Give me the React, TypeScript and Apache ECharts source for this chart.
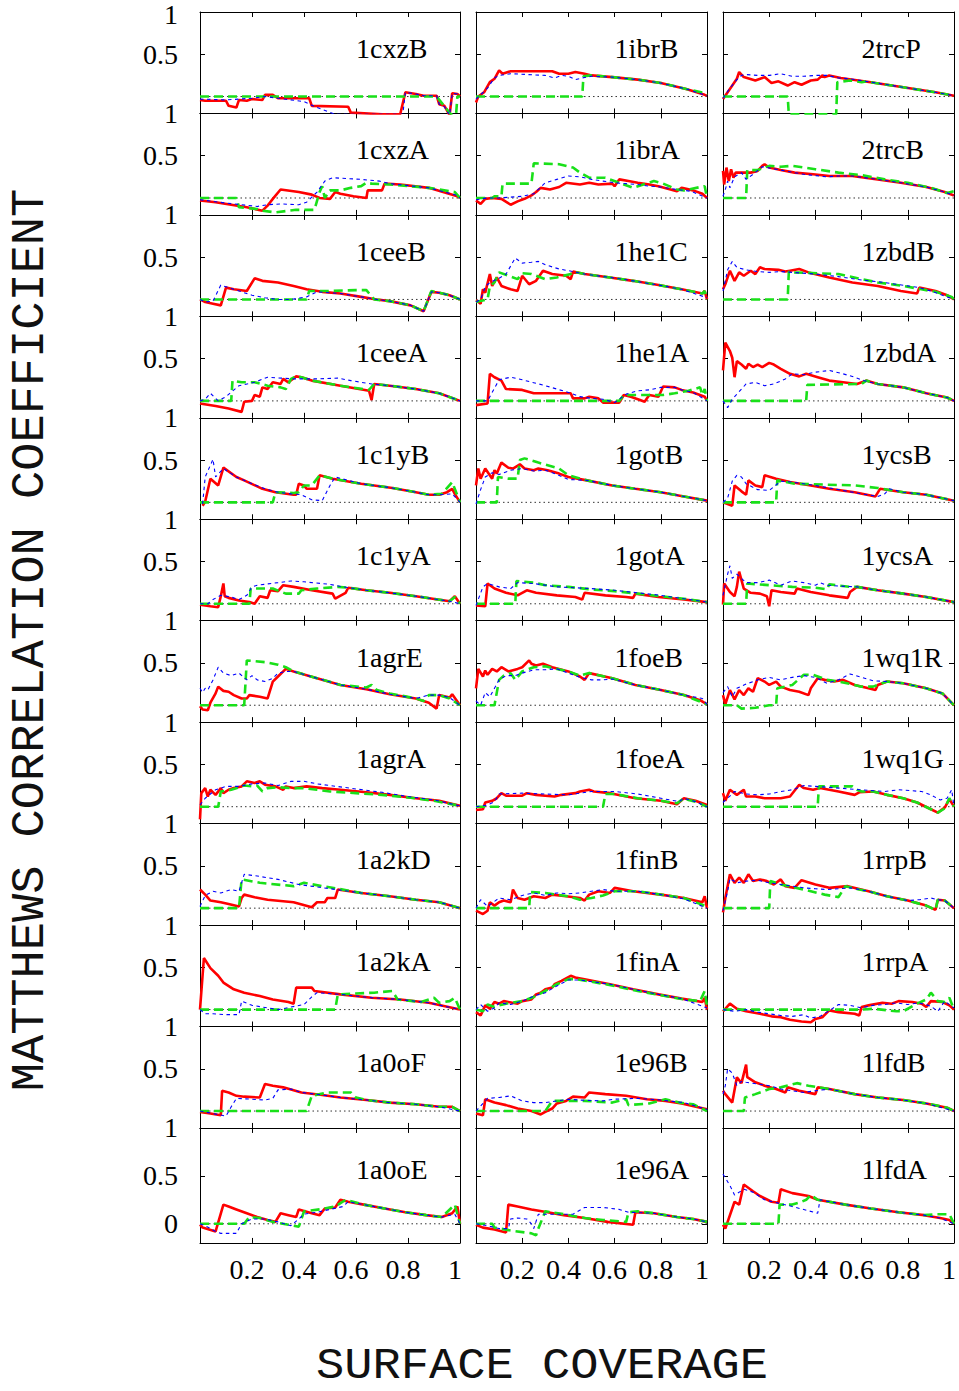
import React, { useEffect, useRef } from "react";
import * as echarts from "echarts";

type Pt = [number, number];

// ---- panel names, row by row (3 columns) ----
const NAMES = [
  "1cxzB", "1ibrB", "2trcP",
  "1cxzA", "1ibrA", "2trcB",
  "1ceeB", "1he1C", "1zbdB",
  "1ceeA", "1he1A", "1zbdA",
  "1c1yB", "1gotB", "1ycsB",
  "1c1yA", "1gotA", "1ycsA",
  "1agrE", "1foeB", "1wq1R",
  "1agrA", "1foeA", "1wq1G",
  "1a2kD", "1finB", "1rrpB",
  "1a2kA", "1finA", "1rrpA",
  "1a0oF", "1e96B", "1lfdB",
  "1a0oE", "1e96A", "1lfdA",
];

const X_TICKS = [0.2, 0.4, 0.6, 0.8];
const X_LABELS = [0.2, 0.4, 0.6, 0.8, 1];
const Y_TICKS = [0.5, 1];
const Y_TICKS_LAST = [0, 0.5, 1];
const Y_LABELS = [0.5, 1];
const Y_LABELS_FIRST = [0.5, 0.972]; // top "1" nudged inside the page edge
const Y_LABELS_LAST = [0, 0.5, 1];
const ZERO_LINE: Pt[] = [[0, 0], [1, 0]];

// ---- row 1 ----
const r_1cxzB: Pt[] = [[0,-0.04],[0.02,-0.05],[0.1,-0.05],[0.11,-0.11],[0.14,-0.13],[0.15,-0.04],[0.18,-0.05],[0.2,-0.03],[0.24,-0.04],[0.25,0.02],[0.28,0.02],[0.3,-0.02],[0.42,-0.02],[0.43,-0.11],[0.57,-0.12],[0.58,-0.19],[0.7,-0.21],[0.77,-0.21],[0.79,0.05],[0.83,0.03],[0.86,0.01],[0.91,0.01],[0.92,-0.09],[0.94,-0.11],[0.96,-0.22],[0.97,0.04],[0.99,0.03],[1,0]];
const g_1cxzB: Pt[] = [[0,0],[0.91,0],[0.965,-0.21],[0.985,-0.21],[0.99,0],[1,0]];
const b_1cxzB: Pt[] = [[0,-0.03],[0.1,-0.04],[0.15,-0.03],[0.2,-0.02],[0.25,0],[0.3,-0.02],[0.4,-0.06],[0.45,-0.13],[0.52,-0.21],[0.78,-0.21],[0.79,0.05],[0.83,0.03],[0.86,0.01],[0.91,0.01],[0.92,-0.09],[0.94,-0.12],[0.96,-0.22],[0.97,0.04],[0.99,0.03],[1,0]];

const r_1ibrB: Pt[] = [[0,-0.07],[0.01,0],[0.035,0.05],[0.06,0.17],[0.08,0.21],[0.1,0.31],[0.115,0.27],[0.15,0.3],[0.33,0.3],[0.36,0.27],[0.4,0.27],[0.43,0.29],[0.47,0.27],[0.5,0.25],[0.59,0.23],[0.7,0.2],[0.8,0.16],[0.91,0.09],[0.99,0.02],[1,0.01]];
const g_1ibrB: Pt[] = [[0,0],[0.46,0],[0.465,0.24],[0.5,0.25],[0.59,0.23],[0.7,0.2],[0.8,0.16],[0.91,0.09],[0.99,0.04],[1,0.02]];
const b_1ibrB: Pt[] = [[0,-0.03],[0.05,0.1],[0.08,0.22],[0.1,0.25],[0.15,0.27],[0.3,0.25],[0.34,0.22],[0.37,0.25],[0.4,0.24],[0.43,0.2],[0.46,0.22],[0.5,0.24],[0.59,0.23],[0.7,0.2],[0.8,0.16],[0.91,0.09],[1,0.01]];

const r_2trcP: Pt[] = [[0,-0.03],[0.035,0.11],[0.06,0.21],[0.07,0.29],[0.09,0.23],[0.14,0.19],[0.18,0.23],[0.21,0.16],[0.24,0.18],[0.28,0.13],[0.31,0.17],[0.34,0.14],[0.38,0.19],[0.41,0.2],[0.43,0.25],[0.44,0.23],[0.46,0.25],[0.51,0.22],[0.64,0.17],[0.78,0.11],[0.92,0.05],[1,0.01]];
const g_2trcP: Pt[] = [[0,0],[0.28,0],[0.285,-0.21],[0.49,-0.21],[0.495,0.17],[0.55,0.19],[0.6,0.17],[0.62,0.18],[0.66,0.16],[0.78,0.11],[0.92,0.05],[1,0.01]];
const b_2trcP: Pt[] = [[0,-0.02],[0.03,0.1],[0.06,0.2],[0.08,0.25],[0.1,0.26],[0.15,0.25],[0.2,0.25],[0.25,0.27],[0.3,0.24],[0.35,0.24],[0.4,0.25],[0.45,0.25],[0.5,0.22],[0.55,0.21],[0.64,0.17],[0.78,0.11],[0.92,0.05],[1,0.01]];

// ---- row 2 ----
const r_1cxzA: Pt[] = [[0,-0.03],[0.06,-0.05],[0.12,-0.08],[0.18,-0.11],[0.24,-0.15],[0.26,-0.09],[0.27,-0.05],[0.28,-0.01],[0.31,0.1],[0.38,0.07],[0.43,0.04],[0.46,0],[0.5,-0.01],[0.52,0.07],[0.54,0.05],[0.59,0.02],[0.64,0],[0.645,0.09],[0.7,0.09],[0.71,0.17],[0.77,0.16],[0.88,0.12],[0.99,0.02],[1,0]];
const g_1cxzA: Pt[] = [[0,0],[0.14,0],[0.15,-0.11],[0.22,-0.13],[0.24,-0.15],[0.29,-0.17],[0.37,-0.14],[0.44,-0.14],[0.46,0.07],[0.47,0.14],[0.48,0],[0.5,0.09],[0.54,0.09],[0.58,0.12],[0.62,0.14],[0.64,0.18],[0.66,0.17],[0.73,0.16],[0.88,0.12],[0.98,0.07],[1,0]];
const b_1cxzA: Pt[] = [[0,-0.02],[0.1,-0.06],[0.22,-0.1],[0.26,-0.08],[0.31,-0.07],[0.38,-0.08],[0.41,-0.05],[0.45,0.07],[0.48,0.2],[0.51,0.24],[0.62,0.22],[0.69,0.2],[0.73,0.17],[0.88,0.12],[0.99,0.03],[1,0]];

const r_1ibrA: Pt[] = [[0,-0.03],[0.02,-0.07],[0.04,-0.01],[0.07,0],[0.11,-0.01],[0.15,-0.08],[0.18,-0.04],[0.21,-0.01],[0.24,0.03],[0.26,0.07],[0.28,0.12],[0.32,0.1],[0.36,0.13],[0.39,0.18],[0.45,0.16],[0.49,0.18],[0.53,0.16],[0.59,0.17],[0.6,0.14],[0.62,0.22],[0.66,0.2],[0.7,0.18],[0.75,0.16],[0.79,0.14],[0.87,0.08],[0.89,0.12],[0.94,0.09],[0.98,0.05],[1,0]];
const g_1ibrA: Pt[] = [[0,0],[0.07,0],[0.08,0.02],[0.11,0.02],[0.115,0.17],[0.24,0.17],[0.25,0.41],[0.36,0.4],[0.42,0.36],[0.45,0.3],[0.49,0.24],[0.56,0.24],[0.62,0.18],[0.68,0.12],[0.77,0.2],[0.81,0.17],[0.87,0.1],[0.9,0.09],[0.99,0.14],[1,0]];
const b_1ibrA: Pt[] = [[0,-0.02],[0.05,0],[0.1,0],[0.2,0.02],[0.25,0.05],[0.3,0.18],[0.35,0.22],[0.4,0.26],[0.45,0.25],[0.5,0.22],[0.55,0.2],[0.6,0.18],[0.65,0.17],[0.7,0.16],[0.75,0.14],[0.8,0.13],[0.87,0.1],[0.93,0.08],[1,0]];

const r_2trcB: Pt[] = [[0,0.32],[0.005,0.16],[0.015,0.36],[0.025,0.2],[0.035,0.34],[0.045,0.24],[0.055,0.3],[0.08,0.3],[0.12,0.3],[0.15,0.32],[0.17,0.38],[0.18,0.4],[0.2,0.36],[0.25,0.33],[0.31,0.3],[0.39,0.28],[0.46,0.26],[0.56,0.26],[0.67,0.22],[0.77,0.18],[0.88,0.13],[0.96,0.07],[1,0.03]];
const g_2trcB: Pt[] = [[0,0],[0.1,0],[0.105,0.33],[0.15,0.33],[0.2,0.38],[0.25,0.37],[0.3,0.38],[0.35,0.36],[0.4,0.34],[0.5,0.3],[0.6,0.27],[0.7,0.22],[0.8,0.18],[0.9,0.12],[0.97,0.06],[1,0.08]];
const b_2trcB: Pt[] = [[0,0.02],[0.01,0.1],[0.02,0.2],[0.03,0.12],[0.05,0.25],[0.08,0.3],[0.1,0.22],[0.13,0.28],[0.17,0.37],[0.25,0.33],[0.35,0.28],[0.45,0.25],[0.5,0.26],[0.56,0.26],[0.67,0.22],[0.77,0.18],[0.88,0.13],[0.96,0.07],[1,0.03]];

// ---- row 3 ----
const r_1ceeB: Pt[] = [[0,0],[0.02,-0.03],[0.05,-0.05],[0.08,-0.07],[0.1,0.14],[0.13,0.12],[0.18,0.1],[0.21,0.25],[0.24,0.22],[0.3,0.2],[0.36,0.16],[0.41,0.12],[0.47,0.09],[0.54,0.07],[0.62,0.03],[0.68,0],[0.73,-0.02],[0.81,-0.07],[0.86,-0.14],[0.89,0.09],[0.92,0.08],[0.96,0.05],[1,0]];
const g_1ceeB: Pt[] = [[0,0],[0.41,0],[0.42,0.1],[0.5,0.1],[0.6,0.11],[0.64,0.11],[0.67,0],[0.73,-0.02],[0.81,-0.07],[0.86,-0.14],[0.89,0.1],[0.92,0.08],[0.96,0.05],[1,0]];
const b_1ceeB: Pt[] = [[0,0],[0.02,-0.03],[0.05,-0.02],[0.08,0.17],[0.1,0.15],[0.15,0.1],[0.2,0.05],[0.25,0.02],[0.3,0],[0.35,0],[0.41,0.03],[0.45,0.09],[0.54,0.07],[0.62,0.03],[0.68,0],[0.73,-0.02],[0.81,-0.07],[0.86,-0.14],[0.89,0.09],[0.92,0.08],[0.96,0.05],[1,0]];

const r_1he1C: Pt[] = [[0,-0.01],[0.02,-0.05],[0.03,0.12],[0.04,0.08],[0.06,0.3],[0.07,0.16],[0.09,0.26],[0.11,0.16],[0.15,0.12],[0.18,0.1],[0.2,0.28],[0.23,0.18],[0.26,0.22],[0.29,0.34],[0.33,0.3],[0.39,0.28],[0.41,0.24],[0.42,0.33],[0.47,0.3],[0.58,0.26],[0.68,0.22],[0.79,0.17],[0.89,0.12],[0.98,0.07],[0.99,0.1],[1,0]];
const g_1he1C: Pt[] = [[0,-0.03],[0.05,0],[0.06,0.16],[0.08,0.2],[0.1,0.32],[0.14,0.28],[0.18,0.24],[0.2,0.31],[0.24,0.3],[0.3,0.24],[0.35,0.26],[0.41,0.3],[0.42,0.33],[0.47,0.3],[0.58,0.26],[0.68,0.22],[0.79,0.17],[0.89,0.12],[0.98,0.07],[0.99,0.1],[1,0]];
const b_1he1C: Pt[] = [[0,-0.03],[0.02,0],[0.04,0.15],[0.06,0.2],[0.1,0.25],[0.13,0.3],[0.17,0.49],[0.2,0.43],[0.24,0.44],[0.27,0.45],[0.3,0.41],[0.36,0.36],[0.42,0.33],[0.47,0.3],[0.58,0.26],[0.68,0.22],[0.79,0.17],[0.89,0.12],[1,0.02]];

const r_1zbdB: Pt[] = [[0,0.12],[0.01,0.18],[0.03,0.34],[0.05,0.22],[0.07,0.32],[0.09,0.28],[0.12,0.34],[0.14,0.3],[0.16,0.38],[0.18,0.36],[0.24,0.35],[0.27,0.33],[0.29,0.34],[0.33,0.36],[0.37,0.32],[0.46,0.26],[0.56,0.2],[0.67,0.16],[0.77,0.1],[0.84,0.07],[0.85,0.14],[0.92,0.1],[0.97,0.05],[1,0]];
const g_1zbdB: Pt[] = [[0,0],[0.28,0],[0.285,0.33],[0.31,0.32],[0.5,0.3],[0.67,0.2],[0.78,0.16],[0.92,0.09],[0.99,0.03],[1,0]];
const b_1zbdB: Pt[] = [[0,0.1],[0.02,0.35],[0.04,0.45],[0.06,0.38],[0.1,0.35],[0.15,0.33],[0.2,0.32],[0.25,0.33],[0.3,0.32],[0.4,0.3],[0.5,0.27],[0.6,0.23],[0.7,0.2],[0.8,0.16],[0.85,0.14],[0.9,0.1],[1,0]];

// ---- row 4 ----
const r_1ceeA: Pt[] = [[0,-0.03],[0.06,-0.06],[0.11,-0.09],[0.16,-0.13],[0.17,-0.01],[0.2,0],[0.21,0.07],[0.23,0.05],[0.24,0.16],[0.26,0.14],[0.28,0.22],[0.31,0.2],[0.32,0.26],[0.34,0.22],[0.37,0.29],[0.39,0.28],[0.43,0.24],[0.54,0.18],[0.65,0.12],[0.66,0.01],[0.67,0.2],[0.73,0.18],[0.83,0.14],[0.92,0.09],[1,0]];
const g_1ceeA: Pt[] = [[0,0],[0.12,0],[0.125,0.24],[0.16,0.22],[0.21,0.22],[0.26,0.18],[0.31,0.16],[0.33,0.14],[0.35,0.26],[0.37,0.29],[0.39,0.28],[0.43,0.24],[0.54,0.18],[0.65,0.13],[0.67,0.2],[0.73,0.18],[0.83,0.14],[0.92,0.09],[1,0]];
const b_1ceeA: Pt[] = [[0,0],[0.02,0.02],[0.04,0.09],[0.07,0],[0.1,0.05],[0.15,0.18],[0.21,0.22],[0.26,0.28],[0.36,0.26],[0.45,0.26],[0.53,0.27],[0.58,0.24],[0.66,0.2],[0.73,0.18],[0.83,0.14],[0.92,0.09],[1,0]];

const r_1he1A: Pt[] = [[0,-0.05],[0.05,-0.03],[0.06,0.32],[0.08,0.28],[0.11,0.24],[0.13,0.14],[0.2,0.13],[0.25,0.09],[0.41,0.09],[0.42,0.03],[0.47,0.03],[0.49,0.05],[0.53,0.03],[0.55,-0.02],[0.62,-0.02],[0.64,0.07],[0.67,0.05],[0.71,0.01],[0.73,-0.01],[0.75,0.07],[0.79,0.05],[0.81,0.17],[0.86,0.16],[0.89,0.13],[0.94,0.1],[0.99,0.05],[1,0]];
const g_1he1A: Pt[] = [[0,0],[0.62,0],[0.64,0.07],[0.81,0.07],[0.86,0.09],[0.92,0.12],[0.97,0.16],[0.98,0.07],[0.99,0.14],[1,0]];
const b_1he1A: Pt[] = [[0,0],[0.05,0],[0.1,0.25],[0.15,0.28],[0.2,0.25],[0.3,0.18],[0.4,0.1],[0.45,0.05],[0.5,0.03],[0.55,0.02],[0.6,-0.02],[0.65,0.08],[0.7,0.12],[0.75,0.13],[0.8,0.16],[0.86,0.16],[0.89,0.13],[0.94,0.1],[1,0]];

const r_1zbdA: Pt[] = [[0,0.36],[0.01,0.69],[0.03,0.59],[0.04,0.51],[0.05,0.28],[0.06,0.47],[0.08,0.43],[0.1,0.38],[0.11,0.44],[0.13,0.4],[0.15,0.43],[0.17,0.4],[0.2,0.45],[0.22,0.43],[0.25,0.38],[0.29,0.32],[0.33,0.29],[0.36,0.32],[0.41,0.28],[0.46,0.24],[0.52,0.22],[0.58,0.2],[0.62,0.24],[0.67,0.2],[0.78,0.16],[0.88,0.09],[0.97,0.04],[1,0]];
const g_1zbdA: Pt[] = [[0,0],[0.36,0],[0.365,0.19],[0.6,0.2],[0.62,0.24],[0.67,0.2],[0.78,0.16],[0.88,0.09],[0.97,0.04],[1,0]];
const b_1zbdA: Pt[] = [[0,0],[0.02,-0.08],[0.04,0.02],[0.1,0.2],[0.14,0.22],[0.18,0.18],[0.22,0.2],[0.27,0.26],[0.3,0.32],[0.35,0.31],[0.4,0.34],[0.46,0.36],[0.52,0.32],[0.57,0.28],[0.61,0.24],[0.67,0.2],[0.78,0.16],[0.88,0.09],[0.97,0.04],[1,0]];

// ---- row 5 ----
const r_1c1yB: Pt[] = [[0.01,-0.04],[0.02,0.01],[0.04,0.28],[0.07,0.2],[0.09,0.41],[0.14,0.3],[0.17,0.26],[0.24,0.16],[0.29,0.12],[0.36,0.09],[0.37,0.09],[0.38,0.22],[0.4,0.2],[0.41,0.16],[0.45,0.16],[0.46,0.32],[0.51,0.28],[0.62,0.22],[0.74,0.17],[0.83,0.12],[0.88,0.09],[0.92,0.09],[0.95,0.12],[0.97,0.16],[0.98,0.1],[1,0]];
const g_1c1yB: Pt[] = [[0,0],[0.28,0],[0.29,0.12],[0.36,0.11],[0.38,0.12],[0.4,0.2],[0.43,0.2],[0.46,0.32],[0.51,0.28],[0.62,0.22],[0.74,0.17],[0.83,0.12],[0.88,0.09],[0.93,0.1],[0.97,0.24],[1,0]];
const b_1c1yB: Pt[] = [[0.01,-0.02],[0.02,0.3],[0.05,0.51],[0.06,0.3],[0.09,0.4],[0.14,0.3],[0.2,0.22],[0.25,0.16],[0.3,0.12],[0.35,0.1],[0.39,0.09],[0.43,0.03],[0.47,0.02],[0.5,0.2],[0.52,0.3],[0.62,0.22],[0.74,0.17],[0.83,0.12],[0.88,0.09],[0.92,0.09],[0.97,0.1],[1,0]];

const r_1gotB: Pt[] = [[0,0.2],[0.01,0.4],[0.02,0.28],[0.04,0.4],[0.07,0.28],[0.08,0.38],[0.09,0.34],[0.11,0.47],[0.14,0.41],[0.16,0.4],[0.19,0.45],[0.21,0.4],[0.25,0.38],[0.27,0.4],[0.31,0.38],[0.36,0.34],[0.4,0.3],[0.48,0.26],[0.59,0.2],[0.69,0.16],[0.8,0.12],[0.9,0.07],[1,0.02]];
const g_1gotB: Pt[] = [[0,0],[0.09,0],[0.095,0.3],[0.14,0.28],[0.18,0.28],[0.19,0.5],[0.21,0.52],[0.27,0.47],[0.36,0.4],[0.4,0.32],[0.48,0.26],[0.59,0.2],[0.69,0.16],[0.8,0.12],[0.9,0.07],[1,0.02]];
const b_1gotB: Pt[] = [[0,-0.02],[0.02,0.15],[0.04,0.3],[0.07,0.35],[0.1,0.33],[0.15,0.38],[0.2,0.4],[0.25,0.37],[0.3,0.38],[0.35,0.33],[0.4,0.27],[0.48,0.26],[0.59,0.2],[0.69,0.16],[0.8,0.12],[0.9,0.07],[1,0.02]];

const r_1ycsB: Pt[] = [[0,0],[0.04,-0.04],[0.05,0.2],[0.08,0.13],[0.1,0.09],[0.11,0.26],[0.14,0.2],[0.17,0.18],[0.18,0.32],[0.23,0.28],[0.29,0.24],[0.38,0.2],[0.46,0.16],[0.57,0.12],[0.66,0.07],[0.68,0.16],[0.78,0.12],[0.88,0.09],[1,0.02]];
const g_1ycsB: Pt[] = [[0,0],[0.23,0],[0.235,0.26],[0.31,0.22],[0.44,0.21],[0.57,0.2],[0.67,0.17],[0.78,0.12],[0.88,0.09],[1,0.02]];
const b_1ycsB: Pt[] = [[0,0],[0.02,0.05],[0.04,0.25],[0.06,0.32],[0.08,0.3],[0.1,0.22],[0.15,0.15],[0.2,0.14],[0.25,0.25],[0.3,0.24],[0.4,0.2],[0.5,0.15],[0.6,0.1],[0.67,0.07],[0.7,0.1],[0.72,0.16],[0.78,0.12],[0.88,0.09],[1,0.02]];

// ---- row 6 ----
const r_1c1yA: Pt[] = [[0,-0.01],[0.04,-0.03],[0.07,-0.04],[0.08,0.09],[0.09,0.24],[0.095,0.09],[0.11,0.07],[0.15,0.04],[0.19,0.02],[0.21,0],[0.23,0.09],[0.26,0.07],[0.27,0.16],[0.3,0.15],[0.32,0.22],[0.36,0.2],[0.43,0.16],[0.51,0.12],[0.52,0.06],[0.56,0.13],[0.57,0.19],[0.64,0.16],[0.73,0.13],[0.83,0.09],[0.96,0.03],[0.98,0.09],[1,0]];
const g_1c1yA: Pt[] = [[0,0],[0.19,0],[0.195,0.18],[0.28,0.18],[0.33,0.12],[0.38,0.12],[0.39,0.16],[0.45,0.18],[0.53,0.2],[0.57,0.19],[0.64,0.16],[0.73,0.13],[0.83,0.09],[0.96,0.03],[0.98,0.08],[1,0]];
const b_1c1yA: Pt[] = [[0,0],[0.03,0],[0.05,0.05],[0.08,0.1],[0.12,0.08],[0.15,0.05],[0.18,0.1],[0.2,0.2],[0.22,0.22],[0.3,0.25],[0.35,0.27],[0.4,0.26],[0.5,0.23],[0.55,0.2],[0.64,0.16],[0.73,0.13],[0.83,0.09],[0.96,0.03],[1,0]];

const r_1gotA: Pt[] = [[0,-0.02],[0.04,-0.03],[0.05,0.24],[0.08,0.18],[0.13,0.13],[0.18,0.1],[0.22,0.16],[0.26,0.13],[0.35,0.1],[0.43,0.08],[0.46,0.05],[0.47,0.13],[0.56,0.1],[0.65,0.08],[0.68,0.07],[0.69,0.12],[0.79,0.08],[0.9,0.05],[1,0.02]];
const g_1gotA: Pt[] = [[0,0],[0.17,0],[0.175,0.27],[0.25,0.25],[0.3,0.22],[0.4,0.2],[0.5,0.17],[0.6,0.15],[0.7,0.12],[0.8,0.09],[0.9,0.06],[1,0.02]];
const b_1gotA: Pt[] = [[0,-0.02],[0.03,0.2],[0.05,0.24],[0.1,0.2],[0.15,0.18],[0.18,0.25],[0.25,0.24],[0.35,0.2],[0.5,0.18],[0.6,0.16],[0.7,0.13],[0.8,0.1],[0.9,0.06],[1,0.02]];

const r_1ycsA: Pt[] = [[0,-0.01],[0.005,0.24],[0.03,0.14],[0.05,0.09],[0.06,0.2],[0.07,0.38],[0.09,0.18],[0.12,0.13],[0.16,0.12],[0.19,0.09],[0.2,-0.03],[0.21,0.16],[0.25,0.14],[0.31,0.12],[0.32,0.18],[0.38,0.14],[0.46,0.1],[0.54,0.07],[0.55,0.14],[0.58,0.2],[0.67,0.16],[0.78,0.12],[0.88,0.08],[1,0.02]];
const g_1ycsA: Pt[] = [[0,0],[0.1,0],[0.105,0.24],[0.2,0.22],[0.3,0.2],[0.4,0.19],[0.45,0.17],[0.46,0.23],[0.55,0.2],[0.58,0.2],[0.67,0.16],[0.78,0.12],[0.88,0.08],[1,0.02]];
const b_1ycsA: Pt[] = [[0,0.1],[0.02,0.35],[0.03,0.45],[0.04,0.3],[0.06,0.35],[0.08,0.3],[0.1,0.25],[0.15,0.25],[0.2,0.28],[0.25,0.22],[0.3,0.27],[0.35,0.25],[0.4,0.22],[0.42,0.25],[0.45,0.22],[0.5,0.21],[0.58,0.2],[0.67,0.16],[0.78,0.12],[0.88,0.08],[1,0.02]];

// ---- row 7 ----
const r_1agrE: Pt[] = [[0,-0.01],[0.01,-0.05],[0.03,-0.06],[0.04,0.03],[0.06,0.14],[0.07,0.22],[0.09,0.17],[0.11,0.16],[0.13,0.12],[0.16,0.08],[0.18,0.08],[0.19,0.12],[0.23,0.1],[0.26,0.08],[0.28,0.28],[0.3,0.34],[0.33,0.43],[0.36,0.4],[0.45,0.32],[0.54,0.24],[0.64,0.19],[0.73,0.13],[0.83,0.08],[0.88,0.03],[0.91,-0.04],[0.92,0.12],[0.96,0.09],[0.97,0.13],[1,0]];
const g_1agrE: Pt[] = [[0,0],[0.17,0],[0.18,0.53],[0.25,0.51],[0.3,0.48],[0.33,0.45],[0.36,0.4],[0.45,0.32],[0.54,0.24],[0.64,0.21],[0.66,0.24],[0.68,0.18],[0.73,0.14],[0.83,0.08],[0.86,0.05],[0.88,0.12],[0.92,0.12],[0.96,0.08],[1,0]];
const b_1agrE: Pt[] = [[0,0.2],[0.01,0.15],[0.02,0.2],[0.03,0.18],[0.05,0.3],[0.07,0.45],[0.09,0.38],[0.12,0.35],[0.15,0.38],[0.18,0.3],[0.2,0.35],[0.22,0.3],[0.25,0.28],[0.28,0.32],[0.3,0.38],[0.33,0.4],[0.36,0.4],[0.45,0.32],[0.54,0.24],[0.64,0.19],[0.73,0.13],[0.83,0.08],[0.88,0.12],[0.92,0.12],[0.96,0.09],[1,0]];

const r_1foeB: Pt[] = [[0,0.2],[0.01,0.43],[0.03,0.34],[0.04,0.41],[0.05,0.36],[0.07,0.43],[0.09,0.4],[0.11,0.45],[0.14,0.4],[0.18,0.43],[0.2,0.45],[0.23,0.53],[0.24,0.49],[0.26,0.47],[0.29,0.49],[0.33,0.45],[0.4,0.4],[0.45,0.34],[0.47,0.3],[0.49,0.38],[0.59,0.32],[0.69,0.24],[0.8,0.18],[0.9,0.12],[0.97,0.06],[1,0.01]];
const g_1foeB: Pt[] = [[0,0],[0.08,0],[0.1,0.3],[0.12,0.35],[0.15,0.38],[0.17,0.3],[0.2,0.4],[0.22,0.42],[0.25,0.45],[0.3,0.46],[0.35,0.43],[0.4,0.4],[0.45,0.35],[0.49,0.38],[0.59,0.32],[0.69,0.24],[0.8,0.18],[0.9,0.12],[1,0.01]];
const b_1foeB: Pt[] = [[0,0.05],[0.02,0],[0.04,0.15],[0.06,0.1],[0.08,0.2],[0.1,0.3],[0.13,0.35],[0.17,0.35],[0.2,0.38],[0.25,0.42],[0.3,0.42],[0.35,0.43],[0.4,0.38],[0.45,0.33],[0.5,0.3],[0.55,0.3],[0.59,0.31],[0.69,0.24],[0.8,0.18],[0.9,0.12],[0.98,0.08],[1,0.01]];

const r_1wq1R: Pt[] = [[0,0.12],[0.01,0.01],[0.03,0.18],[0.05,0.07],[0.07,0.18],[0.09,0.12],[0.11,0.2],[0.13,0.16],[0.15,0.32],[0.18,0.28],[0.2,0.24],[0.23,0.28],[0.25,0.22],[0.29,0.18],[0.33,0.16],[0.37,0.12],[0.38,0.2],[0.41,0.32],[0.44,0.3],[0.48,0.28],[0.52,0.3],[0.57,0.24],[0.63,0.2],[0.66,0.18],[0.67,0.24],[0.71,0.28],[0.78,0.26],[0.88,0.2],[0.95,0.14],[1,0]];
const g_1wq1R: Pt[] = [[0,0],[0.06,0],[0.08,-0.04],[0.14,-0.03],[0.2,0],[0.23,0],[0.235,0.2],[0.3,0.24],[0.35,0.36],[0.39,0.36],[0.45,0.3],[0.5,0.28],[0.57,0.24],[0.6,0.22],[0.65,0.22],[0.71,0.28],[0.78,0.26],[0.88,0.2],[0.95,0.14],[1,0]];
const b_1wq1R: Pt[] = [[0,0.15],[0.02,0.22],[0.04,0.1],[0.06,0.2],[0.1,0.25],[0.15,0.3],[0.2,0.33],[0.25,0.3],[0.3,0.33],[0.35,0.35],[0.4,0.33],[0.45,0.26],[0.5,0.3],[0.55,0.37],[0.6,0.33],[0.65,0.29],[0.71,0.28],[0.78,0.26],[0.88,0.2],[0.95,0.14],[1,0]];

// ---- row 8 ----
const r_1agrA: Pt[] = [[0,-0.15],[0.005,0.16],[0.02,0.22],[0.03,0.12],[0.04,0.2],[0.06,0.14],[0.08,0.22],[0.09,0.16],[0.11,0.2],[0.13,0.22],[0.16,0.24],[0.18,0.3],[0.21,0.28],[0.23,0.3],[0.25,0.26],[0.29,0.24],[0.32,0.2],[0.33,0.24],[0.36,0.22],[0.41,0.24],[0.47,0.22],[0.54,0.2],[0.64,0.17],[0.73,0.14],[0.83,0.1],[0.92,0.07],[1,0.01]];
const g_1agrA: Pt[] = [[0,0],[0.07,0],[0.08,0.18],[0.12,0.2],[0.17,0.25],[0.2,0.24],[0.22,0.25],[0.24,0.18],[0.26,0.22],[0.3,0.23],[0.35,0.22],[0.4,0.22],[0.45,0.2],[0.5,0.18],[0.6,0.16],[0.7,0.14],[0.8,0.11],[0.9,0.07],[1,0.01]];
const b_1agrA: Pt[] = [[0,0.02],[0.02,0.1],[0.04,0.15],[0.06,0.2],[0.1,0.24],[0.15,0.24],[0.2,0.27],[0.25,0.28],[0.3,0.25],[0.35,0.3],[0.4,0.3],[0.45,0.27],[0.5,0.25],[0.6,0.21],[0.7,0.17],[0.8,0.12],[0.9,0.08],[1,0.01]];

const r_1foeA: Pt[] = [[0,-0.04],[0.03,-0.03],[0.04,0.05],[0.07,0.07],[0.09,0.1],[0.11,0.16],[0.13,0.13],[0.2,0.13],[0.22,0.16],[0.26,0.14],[0.3,0.13],[0.34,0.12],[0.37,0.14],[0.43,0.16],[0.45,0.18],[0.49,0.2],[0.51,0.18],[0.58,0.16],[0.69,0.1],[0.8,0.07],[0.87,0.03],[0.9,0.1],[0.95,0.07],[1,0.02]];
const g_1foeA: Pt[] = [[0,0],[0.55,0],[0.56,0.15],[0.6,0.15],[0.7,0.1],[0.8,0.07],[0.87,0.04],[0.9,0.1],[0.92,0.08],[0.95,0.06],[1,0]];
const b_1foeA: Pt[] = [[0,0],[0.05,0.02],[0.08,0.06],[0.1,0.15],[0.2,0.16],[0.3,0.15],[0.4,0.14],[0.5,0.18],[0.6,0.18],[0.7,0.15],[0.8,0.1],[0.88,0.06],[0.9,0.1],[0.95,0.06],[1,0]];

const r_1wq1G: Pt[] = [[0,0.16],[0.01,0.07],[0.03,0.2],[0.06,0.14],[0.09,0.2],[0.1,0.12],[0.14,0.12],[0.18,0.1],[0.25,0.1],[0.29,0.12],[0.33,0.26],[0.35,0.22],[0.39,0.2],[0.42,0.22],[0.5,0.18],[0.57,0.14],[0.59,0.17],[0.65,0.18],[0.71,0.14],[0.78,0.1],[0.84,0.05],[0.9,-0.03],[0.93,-0.07],[0.96,-0.01],[0.98,0.09],[1,0]];
const g_1wq1G: Pt[] = [[0,0],[0.41,0],[0.415,0.24],[0.56,0.24],[0.58,0.2],[0.6,0.18],[0.65,0.18],[0.71,0.14],[0.78,0.1],[0.84,0.05],[0.9,-0.03],[0.93,-0.07],[0.96,-0.02],[0.98,0.1],[1,0]];
const b_1wq1G: Pt[] = [[0,0.05],[0.02,0.1],[0.05,0.18],[0.1,0.15],[0.15,0.14],[0.2,0.15],[0.25,0.18],[0.3,0.2],[0.35,0.25],[0.4,0.24],[0.5,0.22],[0.6,0.2],[0.7,0.18],[0.76,0.2],[0.86,0.18],[0.9,0.14],[0.94,0.08],[0.97,0.1],[0.99,0.2],[1,0]];

// ---- row 9 ----
const r_1a2kD: Pt[] = [[0,0.22],[0.02,0.16],[0.04,0.09],[0.08,0.07],[0.11,0.05],[0.15,0.02],[0.16,0.12],[0.17,0.16],[0.21,0.13],[0.26,0.1],[0.36,0.07],[0.43,0.01],[0.45,0.07],[0.48,0.07],[0.49,0.12],[0.52,0.12],[0.53,0.22],[0.62,0.18],[0.73,0.14],[0.83,0.1],[0.92,0.07],[1,0]];
const g_1a2kD: Pt[] = [[0,0],[0.15,0],[0.16,0.34],[0.23,0.3],[0.36,0.26],[0.4,0.3],[0.47,0.26],[0.53,0.23],[0.62,0.18],[0.73,0.14],[0.83,0.1],[0.92,0.07],[1,0]];
const b_1a2kD: Pt[] = [[0,0.02],[0.02,0.15],[0.05,0.2],[0.08,0.18],[0.12,0.22],[0.15,0.2],[0.17,0.4],[0.22,0.38],[0.3,0.34],[0.38,0.28],[0.45,0.25],[0.5,0.23],[0.62,0.18],[0.73,0.14],[0.83,0.1],[0.92,0.07],[1,0]];

const r_1finB: Pt[] = [[0,-0.03],[0.03,-0.07],[0.05,-0.03],[0.06,0.07],[0.08,0.03],[0.1,0.07],[0.12,0.09],[0.15,0.07],[0.16,0.22],[0.18,0.12],[0.21,0.1],[0.25,0.14],[0.3,0.12],[0.33,0.16],[0.39,0.14],[0.45,0.12],[0.47,0.09],[0.49,0.16],[0.53,0.2],[0.58,0.18],[0.6,0.24],[0.64,0.22],[0.68,0.2],[0.8,0.16],[0.9,0.12],[0.98,0.07],[0.99,0.14],[1,0]];
const g_1finB: Pt[] = [[0,0],[0.23,0],[0.235,0.19],[0.3,0.18],[0.35,0.16],[0.4,0.14],[0.45,0.1],[0.5,0.12],[0.55,0.15],[0.6,0.2],[0.7,0.2],[0.8,0.16],[0.9,0.12],[1,0.02]];
const b_1finB: Pt[] = [[0,0],[0.02,0.1],[0.05,0.02],[0.08,0.08],[0.1,0.12],[0.15,0.1],[0.2,0.15],[0.25,0.18],[0.3,0.15],[0.35,0.18],[0.4,0.17],[0.45,0.18],[0.5,0.2],[0.55,0.22],[0.6,0.2],[0.7,0.2],[0.8,0.16],[0.9,0.11],[1,0]];

const r_1rrpB: Pt[] = [[0,-0.05],[0.01,0.12],[0.03,0.4],[0.05,0.3],[0.07,0.36],[0.09,0.3],[0.11,0.4],[0.13,0.32],[0.16,0.34],[0.19,0.32],[0.22,0.28],[0.25,0.34],[0.27,0.26],[0.31,0.24],[0.34,0.33],[0.4,0.28],[0.46,0.24],[0.54,0.26],[0.63,0.2],[0.71,0.14],[0.8,0.09],[0.88,0.03],[0.92,-0.02],[0.93,0.1],[0.96,0.09],[1,0]];
const g_1rrpB: Pt[] = [[0,0],[0.2,0],[0.205,0.32],[0.25,0.28],[0.35,0.22],[0.44,0.16],[0.5,0.13],[0.53,0.26],[0.59,0.22],[0.63,0.2],[0.71,0.14],[0.8,0.09],[0.88,0.03],[0.92,-0.02],[0.93,0.1],[0.96,0.09],[1,0]];
const b_1rrpB: Pt[] = [[0,-0.03],[0.02,0.2],[0.03,0.35],[0.06,0.3],[0.1,0.32],[0.15,0.33],[0.2,0.3],[0.25,0.28],[0.3,0.26],[0.35,0.24],[0.4,0.23],[0.45,0.22],[0.5,0.23],[0.55,0.24],[0.63,0.2],[0.71,0.14],[0.8,0.09],[0.85,0.1],[0.9,0.12],[0.93,0.1],[0.96,0.09],[1,0]];

// ---- row 10 ----
const r_1a2kA: Pt[] = [[0,0],[0.015,0.61],[0.04,0.49],[0.07,0.4],[0.09,0.32],[0.13,0.24],[0.17,0.2],[0.23,0.16],[0.28,0.12],[0.34,0.09],[0.36,0.07],[0.37,0.26],[0.43,0.26],[0.44,0.22],[0.54,0.18],[0.66,0.14],[0.77,0.12],[0.88,0.08],[1,0]];
const g_1a2kA: Pt[] = [[0,0],[0.52,0],[0.53,0.18],[0.6,0.19],[0.67,0.2],[0.74,0.22],[0.76,0.12],[0.85,0.09],[0.9,0.14],[0.92,0.08],[0.96,0.1],[0.98,0.14],[1,0]];
const b_1a2kA: Pt[] = [[0,0],[0.02,-0.05],[0.05,-0.05],[0.1,-0.06],[0.15,-0.06],[0.16,0.1],[0.2,0.05],[0.3,0],[0.35,0.03],[0.4,0.06],[0.43,0.15],[0.45,0.2],[0.54,0.18],[0.66,0.14],[0.77,0.12],[0.88,0.08],[1,0]];

const r_1finA: Pt[] = [[0,-0.03],[0.02,-0.07],[0.04,0.05],[0.06,0.01],[0.08,0.09],[0.1,0.07],[0.12,0.1],[0.14,0.09],[0.18,0.07],[0.2,0.1],[0.24,0.12],[0.26,0.18],[0.28,0.2],[0.3,0.24],[0.33,0.26],[0.34,0.3],[0.37,0.34],[0.41,0.4],[0.43,0.38],[0.47,0.36],[0.58,0.3],[0.68,0.24],[0.79,0.18],[0.89,0.13],[0.98,0.09],[0.99,0.14],[1,0]];
const g_1finA: Pt[] = [[0,0],[0.03,-0.02],[0.05,0.06],[0.08,0.03],[0.1,0.05],[0.15,0.08],[0.2,0.1],[0.25,0.15],[0.3,0.22],[0.35,0.3],[0.4,0.36],[0.43,0.36],[0.5,0.33],[0.6,0.28],[0.7,0.22],[0.8,0.17],[0.9,0.12],[0.97,0.1],[0.99,0.22],[1,0.04]];
const b_1finA: Pt[] = [[0,0],[0.02,0.06],[0.05,-0.02],[0.08,0.02],[0.1,0.08],[0.15,0.06],[0.2,0.1],[0.25,0.16],[0.3,0.2],[0.35,0.28],[0.4,0.35],[0.45,0.35],[0.58,0.3],[0.68,0.24],[0.79,0.18],[0.89,0.13],[1,0.02]];

const r_1rrpA: Pt[] = [[0,-0.02],[0.03,0.07],[0.06,0.01],[0.1,-0.02],[0.16,-0.05],[0.21,-0.08],[0.25,-0.09],[0.29,-0.12],[0.34,-0.14],[0.38,-0.15],[0.4,-0.11],[0.43,-0.09],[0.46,-0.01],[0.5,-0.03],[0.57,-0.05],[0.59,-0.07],[0.6,0.03],[0.63,0.05],[0.69,0.08],[0.73,0.07],[0.76,0.1],[0.82,0.09],[0.86,0.07],[0.88,0.03],[0.9,0.1],[0.95,0.09],[0.98,0.05],[1,0]];
const g_1rrpA: Pt[] = [[0,0],[0.6,0],[0.65,0.01],[0.75,-0.02],[0.78,-0.02],[0.84,0.07],[0.88,0.12],[0.9,0.2],[0.93,0.1],[0.96,0.09],[0.98,0.14],[1,0]];
const b_1rrpA: Pt[] = [[0,0],[0.05,-0.02],[0.1,0],[0.15,-0.03],[0.2,-0.05],[0.25,-0.07],[0.3,-0.08],[0.35,-0.06],[0.38,-0.1],[0.42,-0.08],[0.45,-0.03],[0.5,0.06],[0.55,0.05],[0.6,0.02],[0.65,0.05],[0.7,0.06],[0.75,0.08],[0.8,0.06],[0.85,0.08],[0.9,0.04],[0.93,-0.02],[0.96,0.1],[1,0.02]];

// ---- row 11 ----
const r_1a0oF: Pt[] = [[0,-0.01],[0.04,-0.03],[0.08,-0.05],[0.085,0.24],[0.11,0.22],[0.14,0.18],[0.17,0.17],[0.23,0.16],[0.25,0.32],[0.28,0.3],[0.32,0.28],[0.39,0.22],[0.47,0.19],[0.54,0.16],[0.64,0.13],[0.73,0.1],[0.83,0.08],[0.92,0.05],[0.97,0.05],[1,0]];
const g_1a0oF: Pt[] = [[0,0],[0.41,0],[0.43,0.18],[0.49,0.22],[0.58,0.22],[0.6,0.16],[0.64,0.13],[0.73,0.1],[0.83,0.08],[0.92,0.05],[0.97,0.05],[1,0]];
const b_1a0oF: Pt[] = [[0,0],[0.05,-0.03],[0.1,-0.06],[0.12,0.05],[0.14,0.15],[0.2,0.14],[0.25,0.13],[0.28,0.15],[0.3,0.25],[0.35,0.26],[0.39,0.22],[0.47,0.19],[0.54,0.16],[0.64,0.13],[0.73,0.1],[0.83,0.08],[0.92,0.05],[1,0]];

const r_1e96B: Pt[] = [[0,-0.03],[0.03,-0.05],[0.04,0.14],[0.08,0.1],[0.13,0.07],[0.18,0.03],[0.24,0],[0.26,-0.02],[0.28,-0.04],[0.3,-0.01],[0.33,0.03],[0.35,0.09],[0.39,0.12],[0.42,0.17],[0.47,0.16],[0.49,0.22],[0.56,0.2],[0.65,0.18],[0.74,0.14],[0.82,0.12],[0.89,0.09],[1,0.02]];
const g_1e96B: Pt[] = [[0,0],[0.3,0],[0.33,0.12],[0.47,0.12],[0.59,0.1],[0.65,0.14],[0.66,0.07],[0.75,0.09],[0.82,0.14],[0.88,0.1],[0.94,0.08],[1,0]];
const b_1e96B: Pt[] = [[0,0],[0.05,0.15],[0.1,0.16],[0.15,0.18],[0.2,0.12],[0.25,0.1],[0.3,0.1],[0.35,0.12],[0.4,0.14],[0.45,0.13],[0.55,0.12],[0.6,0.14],[0.7,0.15],[0.8,0.13],[0.9,0.1],[1,0.02]];

const r_1lfdB: Pt[] = [[0,0.24],[0.01,0.2],[0.04,0.1],[0.06,0.4],[0.08,0.33],[0.09,0.44],[0.1,0.55],[0.105,0.4],[0.14,0.34],[0.18,0.3],[0.23,0.26],[0.27,0.22],[0.28,0.28],[0.33,0.24],[0.4,0.2],[0.41,0.28],[0.46,0.26],[0.57,0.2],[0.67,0.16],[0.78,0.13],[0.88,0.09],[0.97,0.04],[1,0]];
const g_1lfdB: Pt[] = [[0,0],[0.09,0],[0.095,0.16],[0.14,0.2],[0.2,0.26],[0.25,0.28],[0.32,0.33],[0.37,0.3],[0.46,0.26],[0.57,0.2],[0.67,0.16],[0.78,0.13],[0.88,0.09],[0.97,0.04],[1,0]];
const b_1lfdB: Pt[] = [[0,0.2],[0.01,0.3],[0.02,0.5],[0.04,0.45],[0.06,0.3],[0.08,0.35],[0.1,0.34],[0.15,0.32],[0.2,0.3],[0.25,0.26],[0.3,0.24],[0.35,0.22],[0.4,0.24],[0.46,0.26],[0.57,0.2],[0.67,0.16],[0.78,0.13],[0.88,0.09],[1,0]];

// ---- row 12 ----
const r_1a0oE: Pt[] = [[0,-0.01],[0.01,-0.04],[0.06,-0.08],[0.09,0.2],[0.11,0.18],[0.14,0.15],[0.18,0.11],[0.22,0.07],[0.26,0.04],[0.29,0.02],[0.31,0.11],[0.34,0.09],[0.37,0.07],[0.38,0.15],[0.43,0.11],[0.46,0.09],[0.48,0.16],[0.52,0.17],[0.54,0.25],[0.57,0.23],[0.63,0.2],[0.71,0.16],[0.79,0.12],[0.87,0.09],[0.93,0.07],[0.97,0.11],[0.99,0.18],[1,0]];
const g_1a0oE: Pt[] = [[0,0],[0.17,0],[0.19,0.07],[0.23,0.06],[0.28,0.02],[0.34,-0.01],[0.38,-0.03],[0.4,0.13],[0.46,0.15],[0.52,0.18],[0.56,0.25],[0.63,0.2],[0.71,0.16],[0.79,0.12],[0.87,0.09],[0.93,0.07],[0.98,0.2],[1,0]];
const b_1a0oE: Pt[] = [[0,0],[0.02,-0.02],[0.06,-0.08],[0.08,-0.1],[0.14,-0.1],[0.16,0],[0.2,0.05],[0.25,0.05],[0.3,0.02],[0.35,-0.02],[0.38,0.05],[0.4,0.1],[0.45,0.12],[0.5,0.15],[0.55,0.18],[0.57,0.23],[0.63,0.2],[0.71,0.16],[0.79,0.12],[0.87,0.09],[0.93,0.07],[0.98,0.1],[1,0]];

const r_1e96A: Pt[] = [[0,-0.01],[0.03,-0.04],[0.08,-0.06],[0.13,-0.09],[0.14,0.2],[0.18,0.18],[0.24,0.15],[0.31,0.12],[0.38,0.09],[0.47,0.06],[0.57,0.02],[0.68,-0.01],[0.69,0.12],[0.77,0.11],[0.87,0.07],[0.94,0.05],[1,0.02]];
const g_1e96A: Pt[] = [[0,0],[0.07,0],[0.08,-0.04],[0.15,-0.07],[0.24,-0.1],[0.26,-0.12],[0.27,-0.05],[0.3,0.13],[0.38,0.1],[0.47,0.06],[0.55,0.04],[0.65,0.02],[0.66,0.12],[0.7,0.13],[0.77,0.11],[0.87,0.07],[0.94,0.05],[1,0.02]];
const b_1e96A: Pt[] = [[0,0],[0.05,-0.02],[0.1,-0.05],[0.14,-0.05],[0.15,0.05],[0.18,0.06],[0.22,0.05],[0.24,0],[0.25,-0.05],[0.27,0.1],[0.3,0.1],[0.35,0.1],[0.42,0.1],[0.47,0.17],[0.55,0.17],[0.62,0.15],[0.66,0.12],[0.77,0.11],[0.87,0.07],[0.94,0.05],[1,0.02]];

const r_1lfdA: Pt[] = [[0,-0.01],[0.01,-0.05],[0.05,0.23],[0.07,0.2],[0.09,0.41],[0.13,0.34],[0.16,0.29],[0.21,0.23],[0.24,0.22],[0.25,0.36],[0.3,0.32],[0.37,0.29],[0.41,0.25],[0.53,0.2],[0.64,0.16],[0.76,0.12],[0.87,0.09],[0.94,0.06],[0.98,0.04],[1,0]];
const g_1lfdA: Pt[] = [[0,0],[0.24,0],[0.245,0.2],[0.3,0.2],[0.33,0.22],[0.36,0.25],[0.38,0.3],[0.41,0.25],[0.53,0.2],[0.64,0.16],[0.76,0.12],[0.87,0.09],[0.92,0.1],[0.98,0.1],[1,0]];
const b_1lfdA: Pt[] = [[0,0.52],[0.03,0.4],[0.05,0.3],[0.09,0.36],[0.13,0.33],[0.18,0.25],[0.3,0.18],[0.41,0.11],[0.42,0.25],[0.53,0.2],[0.64,0.16],[0.76,0.12],[0.87,0.09],[0.94,0.06],[1,0]];

const RED: Pt[][] = [
  r_1cxzB, r_1ibrB, r_2trcP, r_1cxzA, r_1ibrA, r_2trcB, r_1ceeB, r_1he1C, r_1zbdB,
  r_1ceeA, r_1he1A, r_1zbdA, r_1c1yB, r_1gotB, r_1ycsB, r_1c1yA, r_1gotA, r_1ycsA,
  r_1agrE, r_1foeB, r_1wq1R, r_1agrA, r_1foeA, r_1wq1G, r_1a2kD, r_1finB, r_1rrpB,
  r_1a2kA, r_1finA, r_1rrpA, r_1a0oF, r_1e96B, r_1lfdB, r_1a0oE, r_1e96A, r_1lfdA,
];
const GREEN: Pt[][] = [
  g_1cxzB, g_1ibrB, g_2trcP, g_1cxzA, g_1ibrA, g_2trcB, g_1ceeB, g_1he1C, g_1zbdB,
  g_1ceeA, g_1he1A, g_1zbdA, g_1c1yB, g_1gotB, g_1ycsB, g_1c1yA, g_1gotA, g_1ycsA,
  g_1agrE, g_1foeB, g_1wq1R, g_1agrA, g_1foeA, g_1wq1G, g_1a2kD, g_1finB, g_1rrpB,
  g_1a2kA, g_1finA, g_1rrpA, g_1a0oF, g_1e96B, g_1lfdB, g_1a0oE, g_1e96A, g_1lfdA,
];
const BLUE: Pt[][] = [
  b_1cxzB, b_1ibrB, b_2trcP, b_1cxzA, b_1ibrA, b_2trcB, b_1ceeB, b_1he1C, b_1zbdB,
  b_1ceeA, b_1he1A, b_1zbdA, b_1c1yB, b_1gotB, b_1ycsB, b_1c1yA, b_1gotA, b_1ycsA,
  b_1agrE, b_1foeB, b_1wq1R, b_1agrA, b_1foeA, b_1wq1G, b_1a2kD, b_1finB, b_1rrpB,
  b_1a2kA, b_1finA, b_1rrpA, b_1a0oF, b_1e96B, b_1lfdB, b_1a0oE, b_1e96A, b_1lfdA,
];

// ---- layout ----
const COL_LEFT = [200, 476, 723];
const COL_WIDTH = [260, 231, 231];
const ROW_TOP0 = 12;
const ROW_H = 101.45;
const LAST_ROW_H = 115;
const Y_MIN = -0.2;
const Y_MAX = 1;
const SERIF = '"Liberation Serif", "Times New Roman", serif';
const MONO = '"Liberation Mono", "Courier New", monospace';

function buildOption() {
  const grids: any[] = [];
  const xAxes: any[] = [];
  const yAxes: any[] = [];
  const series: any[] = [];
  const graphics: any[] = [];

  const frameLine = { show: true, onZero: false, lineStyle: { color: "#000", width: 1 } };
  const tickStyle = { color: "#000", width: 1 };
  const labelFont = { fontFamily: SERIF, fontSize: 28, color: "#000", lineHeight: 24 };

  NAMES.forEach((name, k) => {
    const r = Math.floor(k / 3);
    const c = k % 3;
    const last = r === 11;
    const top = ROW_TOP0 + r * ROW_H;
    const height = last ? LAST_ROW_H : ROW_H;
    const left = COL_LEFT[c];
    const width = COL_WIDTH[c];
    grids.push({ left, top, width, height, containLabel: false, outerBoundsMode: "none" });

    const yTicks = last ? Y_TICKS_LAST : Y_TICKS;
    const yLabels = last ? Y_LABELS_LAST : r === 0 ? Y_LABELS_FIRST : Y_LABELS;
    for (const pos of ["bottom", "top"]) {
      xAxes.push({
        gridIndex: k, type: "value", min: 0, max: 1, position: pos,
        axisLine: frameLine,
        axisTick: { show: true, inside: true, length: 5, customValues: X_TICKS, lineStyle: tickStyle },
        axisLabel: {
          show: pos === "bottom" && last, customValues: X_LABELS, margin: 15,
          padding: [0, 10, 0, 0], hideOverlap: false,
          showMinLabel: true, showMaxLabel: true, ...labelFont,
        },
        splitLine: { show: false },
      });
    }
    for (const pos of ["left", "right"]) {
      yAxes.push({
        gridIndex: k, type: "value", min: Y_MIN, max: Y_MAX, position: pos,
        axisLine: frameLine,
        axisTick: { show: true, inside: true, length: 5, customValues: yTicks, lineStyle: tickStyle },
        axisLabel: {
          show: pos === "left" && c === 0, customValues: yLabels, margin: 22,
          hideOverlap: false, showMinLabel: true, showMaxLabel: true,
          formatter: (v: number) => (v > 0.9 ? "1" : String(v)),
          ...labelFont,
        },
        splitLine: { show: false },
      });
    }
    const xi = 2 * k;
    const yi = 2 * k;
    const base = { type: "line", xAxisIndex: xi, yAxisIndex: yi, symbol: "none", showSymbol: false, silent: true, clip: true };
    series.push({ ...base, data: ZERO_LINE, z: 1, lineStyle: { color: "#333", width: 1, type: [1.5, 3] } });
    series.push({ ...base, data: RED[k], z: 2, lineStyle: { color: "#ff0000", width: 2.6 } });
    series.push({ ...base, data: GREEN[k], z: 3, lineStyle: { color: "#19e019", width: 2.6, type: [9, 5] } });
    series.push({ ...base, data: BLUE[k], z: 4, lineStyle: { color: "#0000ff", width: 1.1, type: [3.5, 3.5] } });

    const ty = top + ((Y_MAX - 0.57) / (Y_MAX - Y_MIN)) * height;
    graphics.push({
      type: "text", x: left + 0.6 * width, y: ty, silent: true,
      style: { text: name, fontFamily: SERIF, fontSize: 28, lineHeight: 28, fill: "#000", textAlign: "left", textVerticalAlign: "middle", verticalAlign: "middle" },
    });
  });

  graphics.push({
    type: "text", x: 30, y: 640, rotation: Math.PI / 2, silent: true,
    style: { text: "MATTHEWS CORRELATION COEFFICIENT", fontFamily: MONO, fontSize: 47, lineHeight: 40, fill: "#111", textAlign: "center", textVerticalAlign: "middle", verticalAlign: "middle" },
  });
  graphics.push({
    type: "text", x: 542, y: 1366, scaleX: 1.07, silent: true,
    style: { text: "SURFACE COVERAGE", fontFamily: MONO, fontSize: 44, lineHeight: 38, fill: "#111", textAlign: "center", textVerticalAlign: "middle", verticalAlign: "middle" },
  });

  return {
    animation: false,
    backgroundColor: "#ffffff",
    grid: grids,
    xAxis: xAxes,
    yAxis: yAxes,
    series,
    graphic: graphics,
  };
}

export default function App() {
  const ref = useRef<HTMLDivElement | null>(null);
  useEffect(() => {
    if (!ref.current) return;
    const chart = echarts.init(ref.current, undefined, { renderer: "svg" });
    chart.setOption(buildOption() as any);
    return () => chart.dispose();
  }, []);
  return (
    <div
      ref={ref}
      style={{ position: "absolute", left: 0, top: 0, width: 959, height: 1391, background: "#fff" }}
    />
  );
}
